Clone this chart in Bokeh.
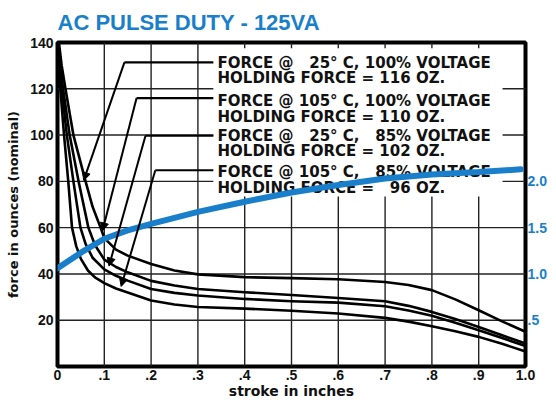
from bokeh.plotting import figure
from bokeh.models import (Range1d, LinearAxis, FixedTicker, Arrow, NormalHead, ColumnDataSource,
                          Span, BoxAnnotation)
from bokeh.core.properties import value
from bokeh.embed import file_html
from bokeh.resources import INLINE

# ---------------- data ----------------
title_text = "AC PULSE DUTY - 125VA"
x_axis_title = "stroke in inches"
y_axis_title = "force in ounces (nominal)"

x_ticks = [0, 0.1, 0.2, 0.3, 0.4, 0.5, 0.6, 0.7, 0.8, 0.9, 1]
x_tick_labels = ["0", ".1", ".2", ".3", ".4", ".5", ".6", ".7", ".8", ".9", "1.0"]
y_ticks = [20, 40, 60, 80, 100, 120, 140]
y_tick_labels = ["20", "40", "60", "80", "100", "120", "140"]
amp_ticks = [0.5, 1, 1.5, 2]
amp_tick_labels = [".5", "1.0", "1.5", "2.0"]
x_min, x_max = 0.0, 1.0
y_min, y_max = 0.0, 140.0

# force curves (ounces) vs stroke (inches)
c1_x = [0.003, 0.009, 0.017, 0.034, 0.06, 0.075, 0.092, 0.1, 0.125, 0.15, 0.2, 0.25, 0.3, 0.4, 0.5, 0.6, 0.7, 0.75, 0.8, 0.85, 0.9, 0.95, 1.0]
c1_y = [140, 130, 120, 100, 80, 69, 60, 55.5, 50.5, 47.9, 44.3, 41.5, 39.8, 38.6, 38.2, 37.7, 36.5, 35.2, 33, 29, 24.3, 19.5, 15]
c2_x = [0.002, 0.006, 0.012, 0.026, 0.045, 0.066, 0.08, 0.1, 0.125, 0.15, 0.2, 0.25, 0.3, 0.4, 0.5, 0.6, 0.7, 0.75, 0.8, 0.85, 0.9, 0.95, 1.0]
c2_y = [139, 130, 120, 100, 80, 60, 52.5, 46.2, 43, 40.7, 37, 35, 33.5, 32.1, 30.9, 29.6, 28.2, 26.2, 23.6, 20.5, 17.1, 13.5, 9.9]
c3_x = [0.001, 0.005, 0.009, 0.02, 0.034, 0.049, 0.06, 0.075, 0.1, 0.125, 0.15, 0.2, 0.25, 0.3, 0.4, 0.5, 0.6, 0.7, 0.75, 0.8, 0.85, 0.9, 0.95, 1.0]
c3_y = [138, 130, 120, 100, 80, 60, 53, 47, 42, 39.2, 37.1, 33.5, 31.8, 30.7, 29.2, 28.2, 27.6, 26, 24.2, 21.9, 18.9, 15.7, 12.3, 8.9]
c4_x = [0.0, 0.003, 0.006, 0.014, 0.023, 0.031, 0.04, 0.05, 0.065, 0.08, 0.1, 0.125, 0.15, 0.2, 0.25, 0.3, 0.4, 0.5, 0.6, 0.7, 0.75, 0.8, 0.85, 0.9, 0.95, 1.0]
c4_y = [137, 130, 120, 100, 80, 60, 52, 46.5, 41.5, 38.5, 36, 33.7, 32, 28.5, 26.8, 25.7, 25, 24.1, 22.9, 21, 19.4, 17.4, 15.2, 12.8, 9.8, 6.5]

# blue curve (right axis)
blue_x = [0, 0.05, 0.1, 0.15, 0.2, 0.3, 0.4, 0.5, 0.6, 0.7, 0.8, 0.9, 0.99]
blue_y = [1.06, 1.23, 1.38, 1.47, 1.54, 1.67, 1.78, 1.88, 1.96, 2.03, 2.075, 2.10, 2.13]

# callout contents
temps = [25, 105, 25, 105]
voltages = [100, 100, 85, 85]
holding = [116, 110, 102, 96]

# callout geometry (data units)
leader_tip_x = [0.056, 0.096, 0.11, 0.136]
leader_tip_y = [80.4, 58.6, 43.4, 34.6]
leader_corner_x = [0.143, 0.169, 0.188, 0.209]
leader_corner_y = [131.4, 116.0, 99.7, 84.8]
text_left = 0.342
leader_end_x = 0.333
line1_y = [131.2, 114.6, 99.8, 84.1]
line2_y = [124.8, 107.8, 93.0, 77.2]
# area kept free of grid lines behind the callout text
box_left, box_right, box_bottom, box_top = 0.333, 0.951, 73.5, 137.5

BLUE = "#1a7fcb"
NB = "\u00a0"

line1 = []
line2 = []
for t, v, h in zip(temps, voltages, holding):
    tt = str(t) if t >= 100 else NB + NB + str(t)
    vv = str(v) if v >= 100 else NB + NB + str(v)
    line1.append("FORCE @ " + tt + "\u00b0 C, " + vv + "% VOLTAGE")
    hh = str(h) if h >= 100 else NB + NB + str(h)
    line2.append("HOLDING FORCE = " + hh + " OZ.")

# ---------------- figure ----------------
p = figure(width=556, height=402, x_range=Range1d(x_min, x_max), y_range=Range1d(y_min, y_max),
           output_backend="svg", toolbar_location=None,
           min_border_left=57, min_border_right=31, min_border_top=39, min_border_bottom=36,
           title=title_text)
p.background_fill_color = "white"
p.border_fill_color = "white"
p.outline_line_color = "black"
p.outline_line_width = 4
p.grid.visible = False

p.title.text_font = "Liberation Sans"
p.title.text_font_style = "bold"
p.title.text_font_size = "22px"
p.title.text_color = BLUE
p.title.align = "left"
p.title.offset = 0
p.title.standoff = 15

p.extra_y_ranges = {"amps": Range1d(0, 3.5)}

xa = p.xaxis[0]
xa.ticker = FixedTicker(ticks=x_ticks)
xa.major_label_overrides = dict(zip(x_ticks, x_tick_labels))
xa.axis_label = x_axis_title
xa.axis_label_standoff = 0
ya = p.yaxis[0]
ya.ticker = FixedTicker(ticks=y_ticks)
ya.major_label_overrides = dict(zip(y_ticks, y_tick_labels))
ya.axis_label = y_axis_title
ya.axis_label_standoff = 6
for ax in (xa, ya):
    ax.axis_label_text_font = "DejaVu Sans"
    ax.axis_label_text_font_style = "bold"
    ax.axis_label_text_color = "#111"
xa.axis_label_text_font_size = "14px"
ya.axis_label_text_font_size = "13px"

ra = LinearAxis(y_range_name="amps", ticker=FixedTicker(ticks=amp_ticks),
                major_label_overrides=dict(zip(amp_ticks, amp_tick_labels)))
p.add_layout(ra, "right")

for ax in (xa, ya, ra):
    ax.axis_line_color = None
    ax.major_tick_line_color = None
    ax.minor_tick_line_color = None
    ax.major_tick_out = 0
    ax.major_tick_in = 0
    ax.major_label_text_font = "Liberation Sans"
    ax.major_label_text_font_style = "bold"
    ax.major_label_text_font_size = "14px"
    ax.major_label_text_color = "#111"
xa.major_label_standoff = 3
ya.major_label_standoff = 4
ra.major_label_standoff = 2
ra.major_label_text_color = BLUE

# grid as span annotations at the tick positions, then a white panel behind the callouts
for t in x_ticks:
    if x_min < t < x_max:
        p.add_layout(Span(location=t, dimension="height", line_color="#222222", line_width=1.4,
                          level="underlay"))
for t in y_ticks:
    if y_min < t < y_max:
        p.add_layout(Span(location=t, dimension="width", line_color="#222222", line_width=1.4,
                          level="underlay"))
p.add_layout(BoxAnnotation(left=box_left, right=box_right, bottom=box_bottom, top=box_top,
                           fill_color="white", fill_alpha=1.0, line_color=None, level="underlay"))

# force curves
for cx, cy in ((c1_x, c1_y), (c2_x, c2_y), (c3_x, c3_y), (c4_x, c4_y)):
    p.line(cx, cy, line_color="black", line_width=2.6, line_join="round")

# leaders
p.segment(x0=leader_corner_x, y0=leader_corner_y, x1=[leader_end_x] * 4, y1=leader_corner_y,
          line_color="black", line_width=2.2)
src = ColumnDataSource(dict(xs=leader_corner_x, ys=leader_corner_y, xe=leader_tip_x, ye=leader_tip_y))
p.add_layout(Arrow(x_start="xs", y_start="ys", x_end="xe", y_end="ye", source=src,
                   line_color="black", line_width=2.0,
                   end=NormalHead(size=8, fill_color="black", line_color="black", line_width=1)))

# callout text
p.text(x=[text_left] * 4, y=line1_y, text=line1, text_font=value("DejaVu Sans"),
       text_font_style="bold", text_font_size="15px", text_baseline="alphabetic", text_color="#111")
p.text(x=[text_left] * 4, y=line2_y, text=line2, text_font=value("DejaVu Sans"),
       text_font_style="bold", text_font_size="15px", text_baseline="alphabetic", text_color="#111")

# blue curve on right axis
p.line(blue_x, blue_y, y_range_name="amps", line_color=BLUE, line_width=6, line_cap="round")

open("out.html", "w").write(file_html(p, INLINE))
